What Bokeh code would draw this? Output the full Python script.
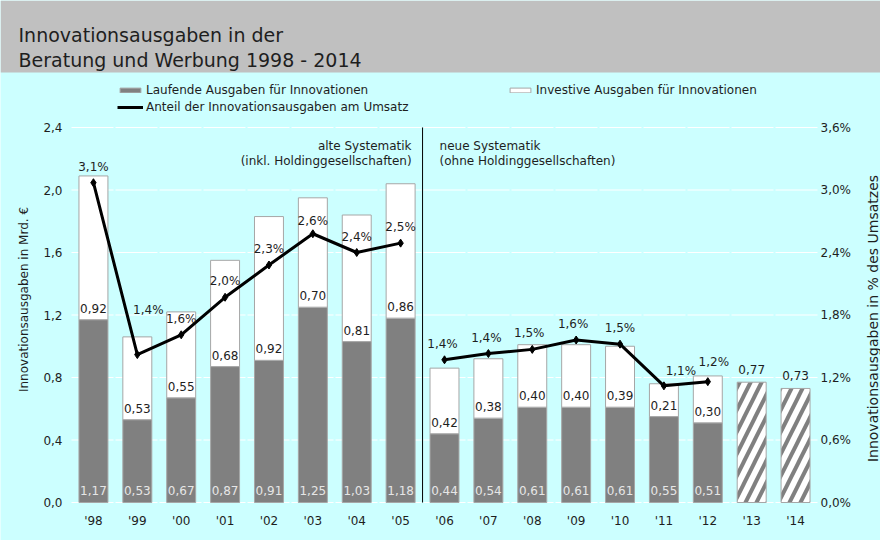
from math import pi
from bokeh.plotting import figure
from bokeh.models import (ColumnDataSource, Range1d, BoxAnnotation, Label, LabelSet,
                          Legend, LegendItem)
from bokeh.core.properties import value
from bokeh.embed import file_html
from bokeh.resources import INLINE

# ---------------- data ----------------
years = ["'98", "'99", "'00", "'01", "'02", "'03", "'04", "'05", "'06",
         "'07", "'08", "'09", "'10", "'11", "'12", "'13", "'14"]
laufende = [1.17, 0.53, 0.67, 0.87, 0.91, 1.25, 1.03, 1.18, 0.44, 0.54, 0.61, 0.61, 0.61, 0.55, 0.51]
investive = [0.92, 0.53, 0.55, 0.68, 0.92, 0.70, 0.81, 0.86, 0.42, 0.38, 0.40, 0.40, 0.39, 0.21, 0.30]
gesamt_est = [0.77, 0.73]          # '13, '14 (nur Gesamtwert)
anteil = [3.07, 1.42, 1.61, 1.97, 2.28, 2.58, 2.40, 2.49, 1.37, 1.43, 1.47, 1.56, 1.52, 1.12, 1.16]
n_alt = 8                          # '98-'05 alte Systematik
left_ticks = [0.0, 0.4, 0.8, 1.2, 1.6, 2.0, 2.4]
right_ticks = [0.0, 0.6, 1.2, 1.8, 2.4, 3.0, 3.6]

title_lines = ["Innovationsausgaben in der", "Beratung und Werbung 1998 - 2014"]

# label nudges (styling only, pixels)
pct_dx = [0, 11, 0, 0, 0, 0, 0, 0, -2, -2, -3, -3, 0, 17, 6]
pct_dy = [12, 41, 12, 12, 12, 9, 12, 12, 12, 12, 12, 12, 12, 11, 16]

FONT = "DejaVu Sans"
TXT = "#1e1e1e"
CYAN = "#ccffff"
GRAYBAND = "#c0c0c0"
BARGRAY = "#808080"
OUTLINE = "#a6a6a6"

# ---------------- layout geometry (pixels) ----------------
W_PX, H_PX = 880, 540
F_LEFT, F_RIGHT, F_TOP, F_BOTTOM = 71, 817, 127, 502
n = len(years)
CAT = (F_RIGHT - F_LEFT) / n
YMAX = 2.4
PXU = (F_BOTTOM - F_TOP) / YMAX
PCT_FACTOR = 3.6 / 2.4


def X(px):
    return (px - F_LEFT) / CAT - 0.5


def Y(py):
    return (F_BOTTOM - py) / PXU


def de(v, k):
    return f"{v:.{k}f}".replace(".", ",")


xs = list(range(n))

p = figure(width=W_PX, height=H_PX, x_range=Range1d(X(0), X(W_PX)),
           y_range=Range1d(Y(H_PX), Y(0)), toolbar_location=None, output_backend="svg",
           x_axis_location=None, y_axis_location=None, title=None, min_border=0)
p.extra_y_ranges = {"pct": Range1d(Y(H_PX) * PCT_FACTOR, Y(0) * PCT_FACTOR)}
p.background_fill_color = CYAN
p.border_fill_color = CYAN
p.outline_line_color = None
p.grid.visible = False

# title band
p.add_layout(BoxAnnotation(bottom=Y(72), fill_color=GRAYBAND, fill_alpha=1,
                           line_color=None, level="underlay"))
for i, line in enumerate(title_lines):
    p.add_layout(Label(x=X(18), y=Y(34 + 25 * i), text=line, text_font=FONT,
                       text_font_size="19px", text_color=TXT, text_baseline="alphabetic"))

# gridlines
p.segment(x0=-0.5, x1=n - 0.5, y0=left_ticks, y1=left_ticks, line_color="white",
          line_width=1.2, line_dash="42 2")

# bars
src = ColumnDataSource(dict(
    x=xs[:len(laufende)], lauf=laufende, inv=investive,
    tot=[a + b for a, b in zip(laufende, investive)],
    lauf_lbl=[de(v, 2) for v in laufende],
    inv_lbl=[de(v, 2) for v in investive],
    pct=anteil, pct_lbl=[de(v, 1) + "%" for v in anteil],
    dx=pct_dx, dy=pct_dy,
))
src_est = ColumnDataSource(dict(x=xs[len(laufende):], tot=gesamt_est,
                                lbl=[de(v, 2) for v in gesamt_est]))
src_old = ColumnDataSource(dict(x=xs[:n_alt], pct=anteil[:n_alt]))
src_new = ColumnDataSource(dict(x=xs[n_alt:len(anteil)], pct=anteil[n_alt:]))

BW = 0.66
r_lauf = p.vbar(x="x", bottom=0, top="lauf", width=BW, source=src,
                fill_color=BARGRAY, line_color=OUTLINE, line_width=1)
r_inv = p.vbar(x="x", bottom="lauf", top="tot", width=BW, source=src,
               fill_color="white", line_color=OUTLINE, line_width=1)
p.vbar(x="x", bottom=0, top="tot", width=BW, source=src_est,
       fill_color="white", line_color=OUTLINE, line_width=1,
       hatch_pattern="/", hatch_color=BARGRAY, hatch_scale=22, hatch_weight=4)

# separator between systematics
p.segment(x0=[n_alt - 0.5], x1=[n_alt - 0.5], y0=[0], y1=[YMAX], line_color="black", line_width=1)

# share line
r_line = p.line(x="x", y="pct", source=src_old, y_range_name="pct", line_color="black", line_width=3)
p.line(x="x", y="pct", source=src_new, y_range_name="pct", line_color="black", line_width=3)
r_pts = p.scatter(x="x", y="pct", source=src, y_range_name="pct", marker="diamond",
                  size=8, fill_color="black", line_color="black")

lbl_kw = dict(text_align="center", text_baseline="alphabetic",
              text_font=value(FONT), text_font_size="12px")
p.add_layout(LabelSet(x="x", y=0, text="lauf_lbl", source=src, y_offset=8,
                      text_color="#e6e6e6", **lbl_kw))
p.add_layout(LabelSet(x="x", y="lauf", text="inv_lbl", source=src, y_offset=7,
                      text_color=TXT, **lbl_kw))
p.add_layout(LabelSet(x="x", y="tot", text="lbl", source=src_est, y_offset=8,
                      text_color=TXT, **lbl_kw))
p.add_layout(LabelSet(x="x", y="pct", text="pct_lbl", source=src, y_range_name="pct",
                      x_offset="dx", y_offset="dy", text_color=TXT, **lbl_kw))

# systematics annotations
for txt, dy, dx, al in [("alte Systematik", -18, -11, "right"),
                        ("(inkl. Holdinggesellschaften)", -33, -11, "right"),
                        ("neue Systematik", -18, 17, "left"),
                        ("(ohne Holdinggesellschaften)", -33, 17, "left")]:
    p.add_layout(Label(x=n_alt - 0.5, y=YMAX, x_offset=dx, y_offset=dy, text=txt,
                       text_align=al, text_baseline="alphabetic", text_font=FONT,
                       text_font_size="12px", text_color=TXT))

# axis tick labels (axes drawn from the tick lists)
tick_src_l = ColumnDataSource(dict(y=left_ticks, t=[de(v, 1) for v in left_ticks],
                                   x=[-0.5] * len(left_ticks)))
tick_src_r = ColumnDataSource(dict(y=right_ticks, t=[de(v, 1) + "%" for v in right_ticks],
                                   x=[n - 0.5] * len(right_ticks)))
tick_src_x = ColumnDataSource(dict(x=xs, y=[0] * n, t=years))
tk = dict(text_font=value(FONT), text_font_size="12px", text_color=TXT)
p.add_layout(LabelSet(x="x", y="y", text="t", source=tick_src_l, x_offset=-9,
                      text_align="right", text_baseline="middle", **tk))
p.add_layout(LabelSet(x="x", y="y", text="t", source=tick_src_r, y_range_name="pct",
                      x_offset=3, text_align="left", text_baseline="middle", **tk))
p.add_layout(LabelSet(x="x", y="y", text="t", source=tick_src_x, y_offset=-22,
                      text_align="center", text_baseline="alphabetic", **tk))

# axis titles
p.add_layout(Label(x=X(23), y=Y(299), angle=pi / 2, text="Innovationsausgaben in Mrd. €",
                   text_align="center", text_baseline="alphabetic", text_font=FONT,
                   text_font_size="12px", text_color=TXT))
p.add_layout(Label(x=X(872), y=Y(318), angle=pi / 2,
                   text="Innovationsausgaben in % des Umsatzes",
                   text_align="center", text_baseline="alphabetic", text_font=FONT,
                   text_font_size="14px", text_color=TXT))

# legends
leg_style = dict(glyph_width=26, glyph_height=6, label_standoff=3, label_height=14,
                 spacing=3, padding=0, margin=0, background_fill_alpha=0,
                 border_line_color=None, label_text_font=FONT, label_text_font_size="12px",
                 label_text_color=TXT)
leg1 = Legend(items=[LegendItem(label="Laufende Ausgaben für Innovationen", renderers=[r_lauf]),
                     LegendItem(label="Anteil der Innovationsausgaben am Umsatz",
                                renderers=[r_line, r_pts])],
              location=(117, H_PX - 114), **leg_style)
leg2 = Legend(items=[LegendItem(label="Investive Ausgaben für Innovationen", renderers=[r_inv])],
              location=(507, H_PX - 97), **leg_style)
p.add_layout(leg1)
p.add_layout(leg2)

open("out.html", "w").write(file_html(p, INLINE))
